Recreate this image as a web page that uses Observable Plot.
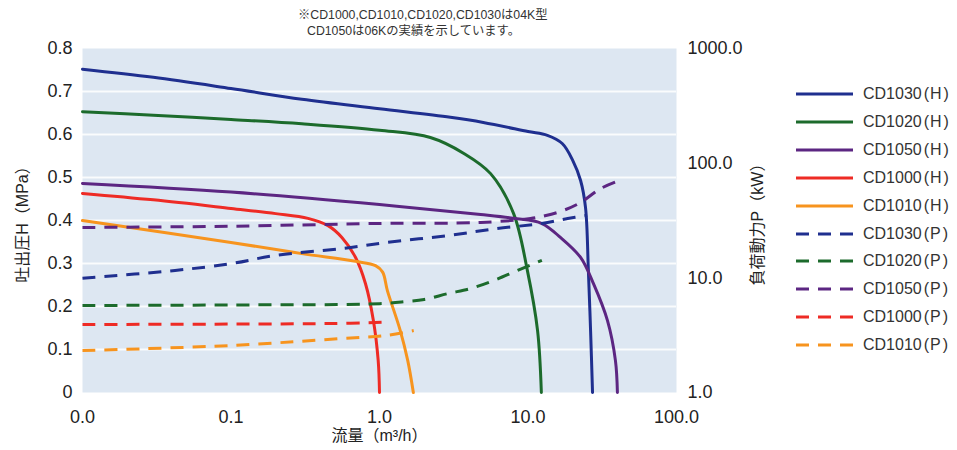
<!DOCTYPE html>
<html><head><meta charset="utf-8">
<script src="https://cdn.jsdelivr.net/npm/d3@7"></script>
<script src="https://cdn.jsdelivr.net/npm/@observablehq/plot@0.6"></script>
<style>
html,body{margin:0;padding:0;background:#fff;}
#wrap{position:relative;width:957px;height:450px;overflow:hidden;font-family:"Liberation Sans","Noto Sans CJK JP",sans-serif;color:#222;}
#note{position:absolute;left:298px;top:7px;font-size:12.3px;line-height:16px;white-space:nowrap;color:#333;}
#note .l2{padding-left:9px;}
#legend{position:absolute;left:796px;top:0;width:161px;height:450px;}
.row{position:absolute;left:0;height:20px;display:flex;align-items:center;white-space:nowrap;font-size:16px;color:#333;}
.row svg{margin-right:10px;}
.row .p{margin-left:2px;margin-right:1px;}
</style></head><body><div id="wrap"></div>
<script>
// ---- axes ticks ----
const flowTicks = [0.01, 0.1, 1, 10, 100];
const pressureTicks = [0, 0.1, 0.2, 0.3, 0.4, 0.5, 0.6, 0.7, 0.8];
const powerTicks = [1, 10, 100, 1000];

// ---- series ----
const seriesNames = ["CD1030", "CD1020", "CD1050", "CD1000", "CD1010"];

// head H (MPa) vs flow (m3/h)
const cd1030H = [[0.01,0.752],[0.03,0.733],[0.1,0.707],[0.3,0.682],[1,0.66],[3,0.64],[5,0.628],[10,0.607],[13.5,0.598],[17,0.579],[20,0.54],[22.6,0.493],[24.4,0.43],[25.5,0.284],[26.4,0.142],[27.2,0]];
const cd1020H = [[0.01,0.653],[0.03,0.645],[0.1,0.635],[0.3,0.625],[1,0.61],[2.2,0.593],[3.7,0.556],[5.6,0.509],[8,0.416],[9.9,0.284],[11.6,0.144],[12.3,0]];
const cd1050H = [[0.01,0.486],[0.1,0.466],[1,0.437],[4.8,0.414],[8,0.405],[12.4,0.393],[16.6,0.36],[22.6,0.314],[27.6,0.253],[34.3,0.167],[38.8,0.074],[40,0]];
const cd1000H = [[0.01,0.463],[0.03,0.448],[0.1,0.428],[0.2,0.416],[0.33,0.405],[0.45,0.388],[0.56,0.36],[0.69,0.314],[0.805,0.253],[0.91,0.167],[0.98,0.074],[1.0,0]];
const cd1010H = [[0.01,0.4],[0.1,0.349],[0.3,0.323],[0.69,0.305],[0.94,0.295],[1.05,0.28],[1.13,0.237],[1.38,0.144],[1.55,0.074],[1.69,0]];

// power P (kW) vs flow (m3/h)
const cd1030P = [[0.01,9.9],[0.042,11.6],[0.1,13.3],[0.2,15.7],[0.56,18],[1.1,20.3],[2.9,23.4],[6.2,26.9],[12.4,29.8],[18.5,32.9],[25,35]];
const cd1020P = [[0.01,5.74],[0.1,5.8],[1,5.95],[1.5,6.2],[2,6.47],[2.9,7.3],[4.1,8.07],[5.9,9.5],[8.5,11.6],[12.4,14.2]];
const cd1050P = [[0.01,27.5],[0.1,28.2],[1,29.8],[4.8,30.4],[10.4,32.9],[13,34.8],[17.3,38.7],[22.6,45.4],[30.8,60],[41.3,70.6]];
const cd1000P = [[0.01,3.92],[0.1,3.95],[0.5,4.0],[1.05,4.1]];
const cd1010P = [[0.01,2.32],[0.1,2.57],[0.56,2.96],[1.1,3.14],[1.7,3.47]];

// ---- styles ----
const seriesColors = ["#1f2f8f", "#1c6b2c", "#5c2682", "#ee2b25", "#f7941e"];

const headSeries = [cd1030H, cd1020H, cd1050H, cd1000H, cd1010H];
const powerSeries = [cd1030P, cd1020P, cd1050P, cd1000P, cd1010P];
const headRows = seriesNames.flatMap((n, i) => headSeries[i].map(([q, v]) => ({name: n, q, v})));
const powerRows = seriesNames.flatMap((n, i) => powerSeries[i].map(([q, v]) => ({name: n, q, v})));

const W = 957, H = 450;
const margins = {marginLeft: 82, marginRight: 281, marginTop: 48, marginBottom: 58};
const font = "'Liberation Sans','Noto Sans CJK JP',sans-serif";
const fmt1 = d3.format(".1f");
const colorScale = {domain: seriesNames, range: seriesColors};

const plotH = Plot.plot({
  width: W, height: H, ...margins,
  x: {type: "log", domain: [0.01, 100]},
  y: {domain: [0, 0.8]},
  color: colorScale,
  style: {fontFamily: font, fontSize: "18px", color: "#222", background: "#fff"},
  marks: [
    Plot.frame({fill: "#dde7f2", stroke: "none"}),
    Plot.gridY(pressureTicks.slice(1, -1), {stroke: "#ffffff", strokeOpacity: 0.85, strokeWidth: 2}),
    Plot.axisX(flowTicks, {tickSize: 0, tickPadding: 18, tickFormat: fmt1, label: null, fontSize: 18}),
    Plot.axisY(pressureTicks, {tickSize: 0, tickPadding: 10, tickFormat: d => d === 0 ? "0" : fmt1(d), label: null, fontSize: 18}),
    Plot.line(headRows, {x: "q", y: "v", z: "name", stroke: "name", strokeWidth: 3, curve: "catmull-rom"}),
    Plot.text(["吐出圧H（MPa）"], {text: d => d, frameAnchor: "left", textAnchor: "middle", dx: -60, rotate: -90, fontSize: 16}),
    Plot.text(["流量（m³/h）"], {text: d => d, frameAnchor: "bottom", textAnchor: "middle", dy: 48, fontSize: 16})
  ]
});

const plotP = Plot.plot({
  width: W, height: H, ...margins,
  x: {type: "log", domain: [0.01, 100], axis: null},
  y: {type: "log", domain: [1, 1000]},
  color: colorScale,
  style: {fontFamily: font, fontSize: "18px", color: "#222", background: "transparent"},
  marks: [
    Plot.axisY(powerTicks, {anchor: "right", tickSize: 0, tickPadding: 11, tickFormat: fmt1, label: null, fontSize: 18}),
    Plot.line(powerRows, {x: "q", y: "v", z: "name", stroke: "name", strokeWidth: 3, strokeDasharray: "13,9", strokeLinecap: "butt", curve: "catmull-rom"}),
    Plot.text(["負荷動力P（kW）"], {text: d => d, frameAnchor: "right", textAnchor: "middle", dx: 81, rotate: -90, fontSize: 16})
  ]
});

const wrap = document.getElementById("wrap");
for (const el of [plotH, plotP]) {
  el.style.position = "absolute";
  el.style.left = "0px";
  el.style.top = "0px";
  el.style.maxWidth = "none";
  wrap.appendChild(el);
}

// note
const note = document.createElement("div");
note.id = "note";
note.innerHTML = '<div>※CD1000,CD1010,CD1020,CD1030は04K型</div><div class="l2">CD1050は06Kの実績を示しています。</div>';
wrap.appendChild(note);

// legend
const legend = document.createElement("div");
legend.id = "legend";
const entries = [
  ...seriesNames.map((n, i) => ({name: n, kind: "H", color: seriesColors[i], dash: null})),
  ...seriesNames.map((n, i) => ({name: n, kind: "P", color: seriesColors[i], dash: "13,9"}))
];
entries.forEach((e, i) => {
  const row = document.createElement("div");
  row.className = "row";
  row.style.top = (84 + i * 27.9) + "px";
  row.innerHTML = `<svg width="57" height="6"><line x1="0" y1="3" x2="57" y2="3" stroke="${e.color}" stroke-width="3.2" ${e.dash ? `stroke-dasharray="${e.dash}"` : ""}/></svg><span>${e.name}<span class="p">(</span>${e.kind}<span class="p">)</span></span>`;
  legend.appendChild(row);
});
wrap.appendChild(legend);
</script></body></html>
